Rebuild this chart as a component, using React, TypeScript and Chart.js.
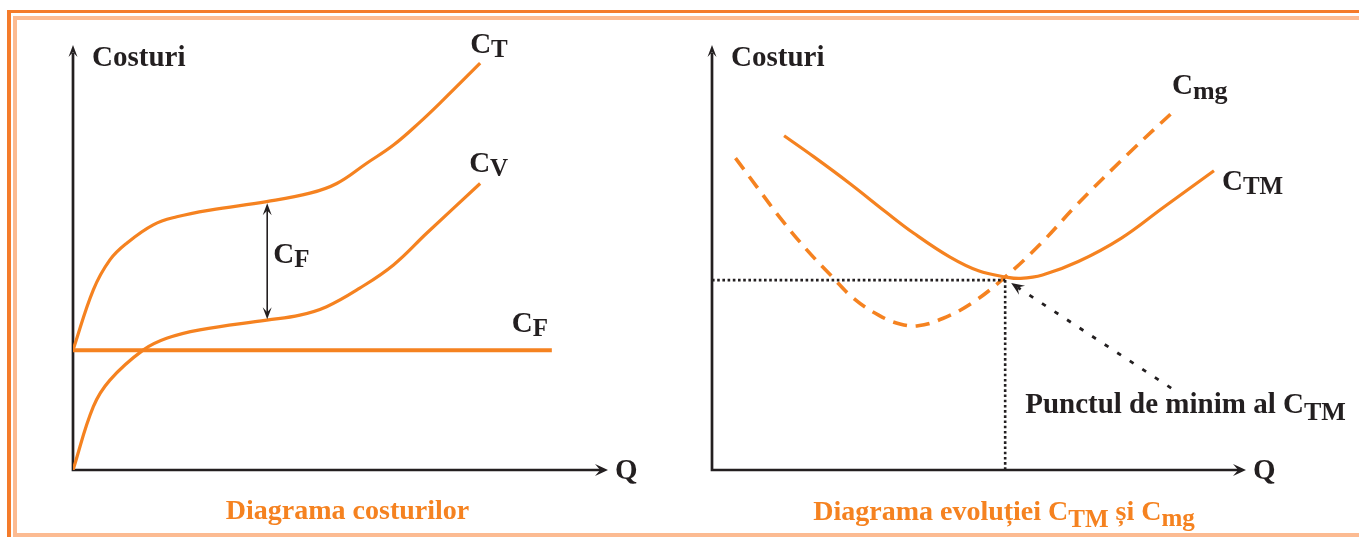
import React, { useEffect, useRef } from "react";
import { Chart, registerables } from "chart.js";

Chart.register(...registerables);

// ---------- Data: left diagram (Diagrama costurilor) ----------
const qCT = [0, 0.38, 0.69, 1.0, 1.5, 1.94, 2.56, 3.62, 4.43, 4.93, 5.49, 5.99, 6.49, 6.92, 7.61];
const valCT = [2.84, 4.27, 4.98, 5.37, 5.81, 6.0, 6.16, 6.36, 6.56, 6.79, 7.27, 7.7, 8.25, 8.77, 9.64];
const qCV = [0, 0.38, 0.69, 1.31, 1.75, 2.37, 3.62, 4.24, 4.74, 5.36, 5.99, 6.61, 7.61];
const valCV = [0, 1.5, 2.13, 2.84, 3.12, 3.32, 3.55, 3.67, 3.87, 4.31, 4.86, 5.61, 6.79];
const qCF = [0, 8.95];
const valCF = [2.84, 2.84];
// CF bracket (double arrow between CT and CV)
const cfBracketQ = 3.63;
const cfBracketTop = 6.32;
const cfBracketBottom = 3.57;

// ---------- Data: right diagram (CTM and Cmg) ----------
const qCTM = [1.35, 1.91, 2.58, 3.25, 3.78, 4.45, 4.99, 5.52, 5.78, 6.19, 6.86, 7.66, 8.47, 9.4];
const valCTM = [7.92, 7.42, 6.79, 6.12, 5.61, 5.05, 4.72, 4.57, 4.54, 4.62, 4.94, 5.49, 6.24, 7.09];
const qCmg = [0.44, 0.84, 1.31, 1.78, 2.25, 2.65, 3.12, 3.52, 3.86, 4.32, 4.86, 5.46, 6.13, 6.86, 7.8, 8.67];
const valCmg = [7.39, 6.71, 5.92, 5.21, 4.58, 4.07, 3.67, 3.46, 3.42, 3.59, 3.95, 4.54, 5.33, 6.32, 7.5, 8.53];
const minCTMq = 5.49;
const minCTMc = 4.5;

// ---------- Texts ----------
const yAxisTitle = "Costuri";
const xAxisTitle = "Q";
const leftTitle = "Diagrama costurilor";
const pointLabel = "Punctul de minim al C";

const FONT = '"Liberation Serif", "Times New Roman", Times, serif';
const ORANGE = "#F58220";
const DARK = "#231F20";

type Run = { text: string; size: number; dy: number };

function drawRuns(ctx: CanvasRenderingContext2D, runs: Run[], x: number, y: number, color: string, align: "left" | "center" = "left") {
  ctx.save();
  ctx.fillStyle = color;
  ctx.textBaseline = "alphabetic";
  ctx.textAlign = "left";
  let total = 0;
  const widths = runs.map((r) => {
    ctx.font = `bold ${r.size}px ${FONT}`;
    const w = ctx.measureText(r.text).width;
    total += w;
    return w;
  });
  let cx = align === "center" ? x - total / 2 : x;
  runs.forEach((r, i) => {
    ctx.font = `bold ${r.size}px ${FONT}`;
    ctx.fillText(r.text, cx, y + r.dy);
    cx += widths[i];
  });
  ctx.restore();
}

const subLabel = (main: string, s: string, mainSize = 29, subSize = 25, drop = 4): Run[] => [
  { text: main, size: mainSize, dy: 0 },
  { text: s, size: subSize, dy: drop },
];

function arrowHead(ctx: CanvasRenderingContext2D, x: number, y: number, angle: number, len = 10, half = 4.5) {
  ctx.save();
  ctx.translate(x, y);
  ctx.rotate(angle);
  ctx.beginPath();
  ctx.moveTo(0, 0);
  ctx.lineTo(-len, -half);
  ctx.lineTo(-len * 0.6, 0);
  ctx.lineTo(-len, half);
  ctx.closePath();
  ctx.fill();
  ctx.restore();
}

const axesPlugin = {
  id: "axesArrows",
  beforeDatasetsDraw(chart: any) {
    const { ctx, chartArea: a } = chart;
    ctx.save();
    ctx.strokeStyle = DARK;
    ctx.fillStyle = DARK;
    ctx.lineWidth = 2.7;
    ctx.beginPath();
    ctx.moveTo(a.left, a.top + 5);
    ctx.lineTo(a.left, a.bottom);
    ctx.lineTo(a.right - 6, a.bottom);
    ctx.stroke();
    arrowHead(ctx, a.left, a.top - 3, -Math.PI / 2, 12, 4.5);
    arrowHead(ctx, a.right, a.bottom, 0, 13, 6);
    ctx.restore();
    drawRuns(ctx, [{ text: yAxisTitle, size: 29, dy: 0 }], a.left + 19, 66, DARK);
    drawRuns(ctx, [{ text: xAxisTitle, size: 29, dy: 0 }], a.right + 7, a.bottom + 9, DARK);
  },
};

const pts = (xs: number[], ys: number[]) => xs.map((x, i) => ({ x, y: ys[i] }));

const leftPlugin = {
  id: "leftExtras",
  afterDatasetsDraw(chart: any) {
    const { ctx } = chart;
    const xs = chart.scales.x;
    const ys = chart.scales.y;
    const px = (v: number) => xs.getPixelForValue(v);
    const py = (v: number) => ys.getPixelForValue(v);
    // CF bracket
    const bx = px(cfBracketQ);
    const top = py(cfBracketTop);
    const bot = py(cfBracketBottom);
    ctx.save();
    ctx.strokeStyle = DARK;
    ctx.fillStyle = DARK;
    ctx.lineWidth = 1.6;
    ctx.beginPath();
    ctx.moveTo(bx, top + 5);
    ctx.lineTo(bx, bot - 5);
    ctx.stroke();
    arrowHead(ctx, bx, top, -Math.PI / 2, 12, 4.5);
    arrowHead(ctx, bx, bot, Math.PI / 2, 12, 4.5);
    ctx.restore();
    drawRuns(ctx, subLabel("C", "F"), bx + 6, (top + bot) / 2 + 2, DARK);
    // curve labels
    const nT = qCT.length - 1;
    drawRuns(ctx, subLabel("C", "T"), px(qCT[nT]) - 10, py(valCT[nT]) - 10, DARK);
    const nV = qCV.length - 1;
    drawRuns(ctx, subLabel("C", "V"), px(qCV[nV]) - 11, py(valCV[nV]) - 11, DARK);
    const nF = qCF.length - 1;
    drawRuns(ctx, subLabel("C", "F"), px(qCF[nF]) - 40, py(valCF[nF]) - 18, DARK);
    // title
    drawRuns(ctx, [{ text: leftTitle, size: 28, dy: 0 }], 347.5, 519, ORANGE, "center");
  },
};

const rightPlugin = {
  id: "rightExtras",
  afterDatasetsDraw(chart: any) {
    const { ctx, chartArea: a } = chart;
    const xs = chart.scales.x;
    const ys = chart.scales.y;
    const px = (v: number) => xs.getPixelForValue(v);
    const py = (v: number) => ys.getPixelForValue(v);
    const mx = px(minCTMq);
    const my = py(minCTMc);
    ctx.save();
    ctx.strokeStyle = DARK;
    ctx.fillStyle = DARK;
    ctx.lineWidth = 2.6;
    ctx.setLineDash([2.6, 2.6]);
    ctx.beginPath();
    ctx.moveTo(a.left, my);
    ctx.lineTo(mx, my);
    ctx.moveTo(mx, my);
    ctx.lineTo(mx, a.bottom);
    ctx.stroke();
    // pointer arrow
    const sx = mx + 166;
    const sy = my + 108;
    const tx = mx + 6;
    const ty = my + 3;
    const ang = Math.atan2(ty - sy, tx - sx);
    ctx.setLineDash([4.5, 10.5]);
    ctx.lineWidth = 2.8;
    ctx.beginPath();
    ctx.moveTo(sx, sy);
    ctx.lineTo(tx - Math.cos(ang) * 8, ty - Math.sin(ang) * 8);
    ctx.stroke();
    ctx.setLineDash([]);
    arrowHead(ctx, tx, ty, ang, 13, 5.5);
    ctx.restore();
    drawRuns(ctx, [{ text: pointLabel, size: 29, dy: 0 }, { text: "TM", size: 26, dy: 7 }], mx + 20, my + 133, DARK);
    // curve labels
    const nM = qCmg.length - 1;
    drawRuns(ctx, subLabel("C", "mg", 29, 26, 5), px(qCmg[nM]) - 3, py(valCmg[nM]) - 16, DARK);
    const nT = qCTM.length - 1;
    drawRuns(ctx, subLabel("C", "TM", 29, 25, 4), px(qCTM[nT]) + 8, py(valCTM[nT]) + 19, DARK);
    // title
    drawRuns(
      ctx,
      [
        { text: "Diagrama evoluției C", size: 28, dy: 0 },
        { text: "TM", size: 25, dy: 7 },
        { text: " și C", size: 28, dy: 0 },
        { text: "mg", size: 25, dy: 6 },
      ],
      324,
      520,
      ORANGE,
      "center"
    );
  },
};

const baseOptions = (padding: any) => ({
  animation: false as const,
  responsive: false,
  devicePixelRatio: 1,
  layout: { padding },
  scales: {
    x: { type: "linear" as const, min: 0, max: 10, display: false },
    y: { type: "linear" as const, min: 0, max: 10, display: false },
  },
  plugins: { legend: { display: false }, tooltip: { enabled: false } },
  elements: { point: { radius: 0 }, line: { tension: 0.4 } },
});

export default function App() {
  const leftRef = useRef<HTMLCanvasElement>(null);
  const rightRef = useRef<HTMLCanvasElement>(null);

  useEffect(() => {
    const left = new Chart(leftRef.current as HTMLCanvasElement, {
      type: "scatter",
      data: {
        datasets: [
          { data: pts(qCF, valCF), showLine: true, borderColor: ORANGE, borderWidth: 4, pointRadius: 0, tension: 0 },
          { data: pts(qCT, valCT), showLine: true, borderColor: ORANGE, borderWidth: 3.2, pointRadius: 0, tension: 0.4 },
          { data: pts(qCV, valCV), showLine: true, borderColor: ORANGE, borderWidth: 3.2, pointRadius: 0, tension: 0.4 },
        ],
      } as any,
      options: baseOptions({ left: 73, top: 48, right: 680 - 608, bottom: 537 - 470 }) as any,
      plugins: [axesPlugin, leftPlugin],
    });
    const right = new Chart(rightRef.current as HTMLCanvasElement, {
      type: "scatter",
      data: {
        datasets: [
          { data: pts(qCTM, valCTM), showLine: true, borderColor: ORANGE, borderWidth: 3.2, pointRadius: 0, tension: 0.4 },
          { data: pts(qCmg, valCmg), showLine: true, borderColor: ORANGE, borderWidth: 3.6, borderDash: [14, 9], pointRadius: 0, tension: 0.4 },
        ],
      } as any,
      options: baseOptions({ left: 32, top: 48, right: 679 - 566, bottom: 537 - 470 }) as any,
      plugins: [axesPlugin, rightPlugin],
    });
    return () => {
      left.destroy();
      right.destroy();
    };
  }, []);

  const bar = (l: number, t: number, w: number, h: number, c: string) => (
    <div style={{ position: "absolute", left: l, top: t, width: w, height: h, background: c }} />
  );

  return (
    <div style={{ position: "absolute", left: 0, top: 0, width: 1359, height: 537, background: "#ffffff", overflow: "hidden" }}>
      {bar(7, 9.5, 1352, 3.6, "#F47B2A")}
      {bar(7, 9.5, 3.6, 528, "#F47B2A")}
      {bar(13.3, 16, 1346, 3.6, "#FCBB92")}
      {bar(13.3, 16, 3.6, 521, "#FCBB92")}
      {bar(13.3, 533, 1346, 3.6, "#FCBB92")}
      <canvas ref={leftRef} width={680} height={537} style={{ position: "absolute", left: 0, top: 0, width: 680, height: 537 }} />
      <canvas ref={rightRef} width={679} height={537} style={{ position: "absolute", left: 680, top: 0, width: 679, height: 537 }} />
    </div>
  );
}
